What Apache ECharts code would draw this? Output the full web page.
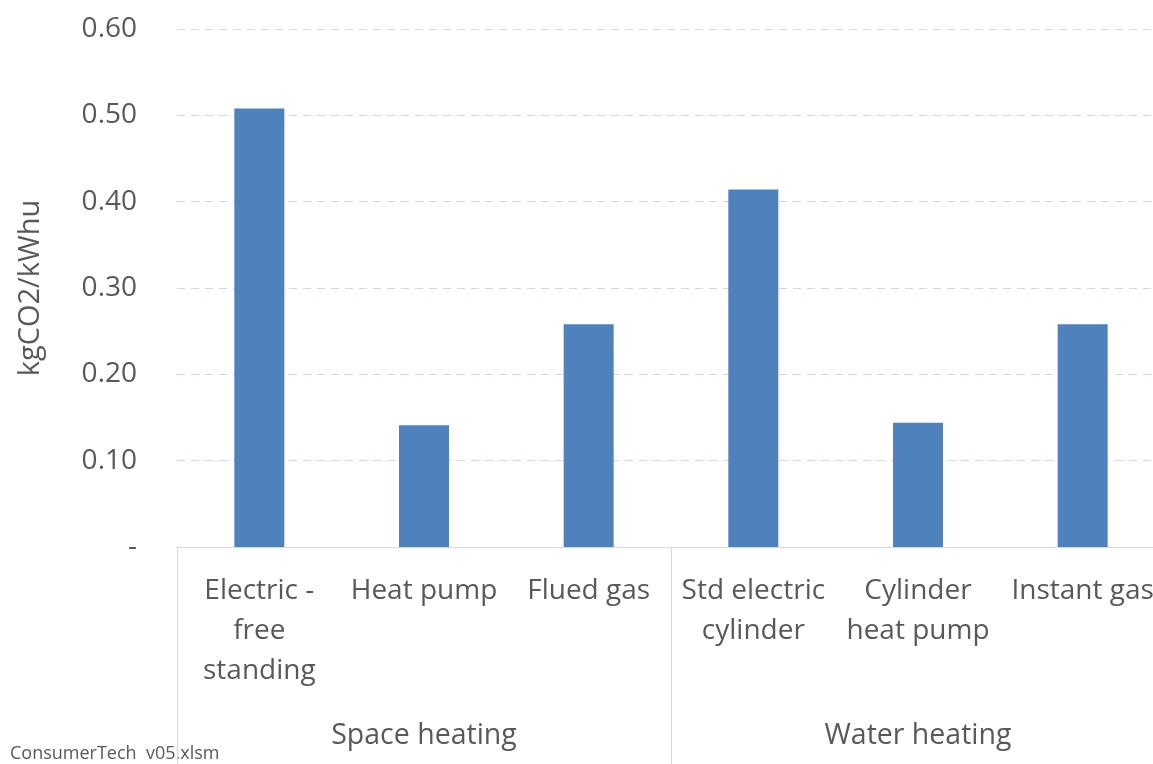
<!DOCTYPE html>
<html>
<head>
<meta charset="utf-8">
<script src="https://cdn.jsdelivr.net/npm/echarts@6/dist/echarts.min.js"></script>
<style>
  html, body { margin: 0; padding: 0; background: #fff; }
  #main { width: 1153px; height: 764px; }
</style>
</head>
<body>
<div id="main"></div>
<script>
// data
var categories = ['Electric -\nfree\nstanding', 'Heat pump', 'Flued gas', 'Std electric\ncylinder', 'Cylinder\nheat pump', 'Instant gas'];
var groups = ['Space heating', 'Water heating'];
var values = [0.508, 0.141, 0.258, 0.414, 0.144, 0.258];
var yTicks = [0, 0.1, 0.2, 0.3, 0.4, 0.5, 0.6];

var textColor = '#595959';
var font = '"Open Sans", Lato, sans-serif';

var chart = echarts.init(document.getElementById('main'));
var option = {
    animation: false,
    textStyle: { fontFamily: font },
    graphic: [{
        type: 'text',
        left: 10,
        top: 745,
        style: { text: 'ConsumerTech  v05.xlsm', fill: textColor, font: '18px ' + font }
    }],
    // plot runs past the right edge of the window, like the source image
    grid: { left: 177, top: 29, bottom: 217, width: 988, containLabel: false, outerBoundsMode: 'none' },
    xAxis: [
        {
            type: 'category',
            data: categories,
            axisLine: { show: true, lineStyle: { color: '#d9d9d9', width: 1 } },
            axisTick: { show: false },
            axisLabel: {
                interval: 0,
                color: textColor,
                fontSize: 28,
                lineHeight: 40,
                margin: 24,
                align: 'center'
            }
        },
        {
            type: 'category',
            data: groups,
            position: 'bottom',
            axisLine: { show: false },
            axisTick: { show: true, length: 217, lineStyle: { color: '#d9d9d9', width: 1 } },
            axisLabel: { color: textColor, fontSize: 28.5, margin: 174 }
        }
    ],
    yAxis: {
        type: 'value',
        min: yTicks[0],
        max: yTicks[yTicks.length - 1],
        interval: 0.1,
        name: 'kgCO2/kWhu',
        nameLocation: 'middle',
        nameGap: 132,
        nameTextStyle: { color: textColor, fontSize: 29 },
        axisLine: { show: false },
        axisTick: { show: false },
        axisLabel: {
            color: textColor,
            fontSize: 28,
            margin: 40,
            formatter: function (v) { return v === 0 ? '-' : v.toFixed(2); }
        },
        splitLine: { lineStyle: { color: '#cfdccf', type: [8, 6], width: 1 } }
    },
    series: [{
        type: 'bar',
        data: values,
        barWidth: 50,
        itemStyle: { color: '#4f81bd' }
    }]
};
chart.setOption(option);
</script>
</body>
</html>
